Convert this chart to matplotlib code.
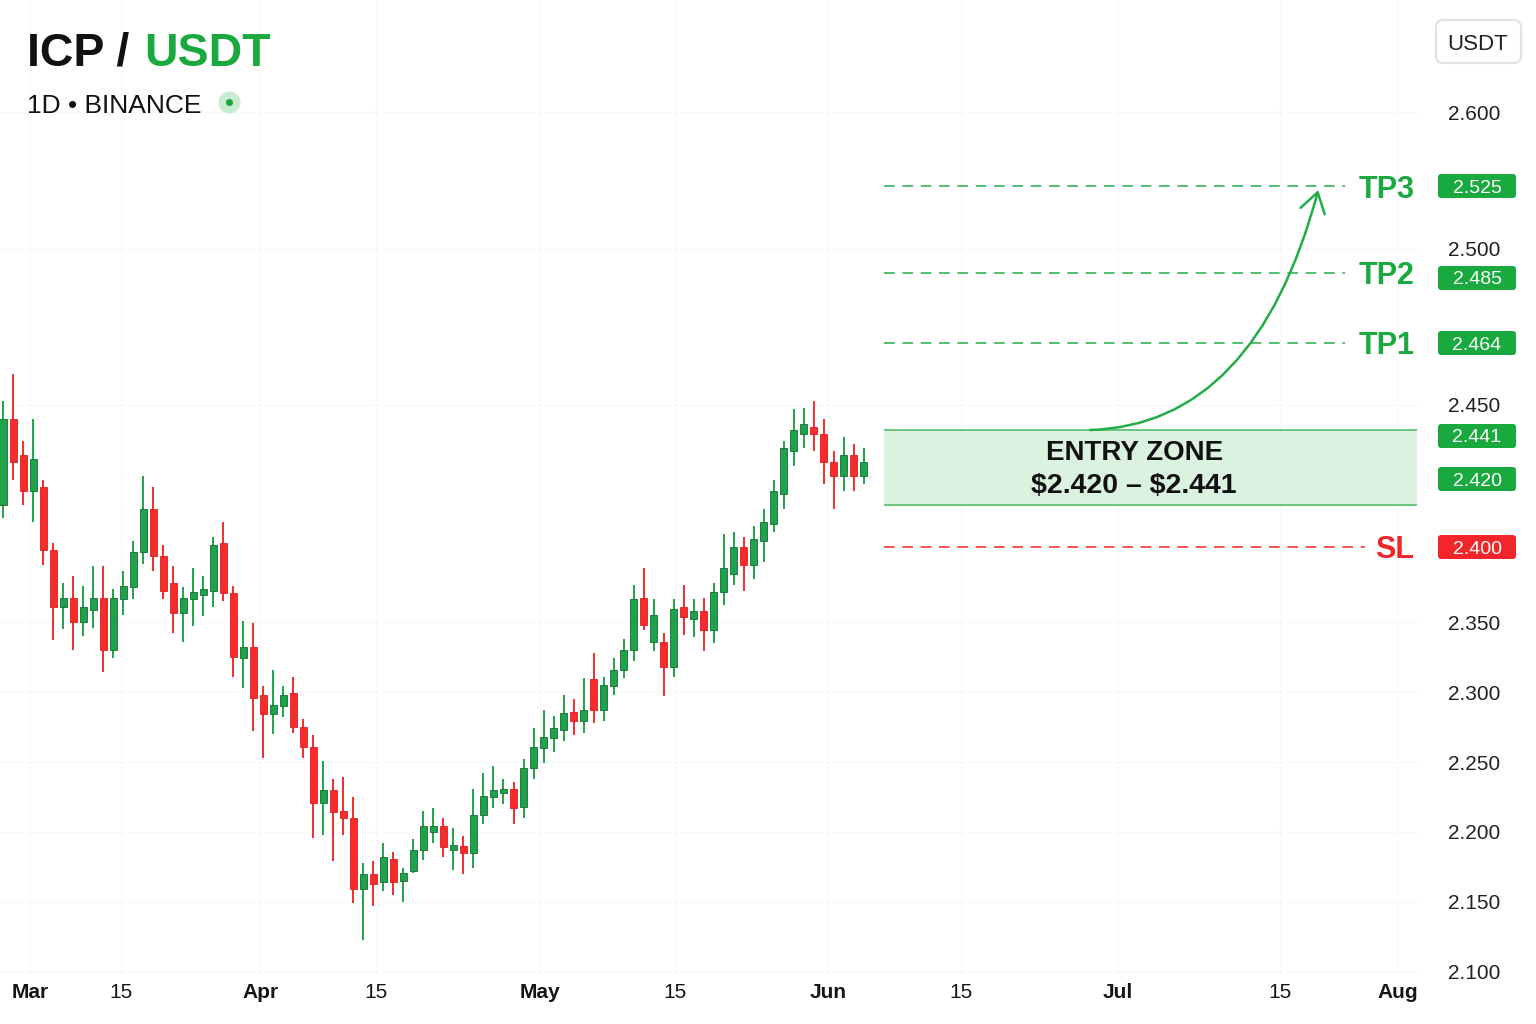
# ICP/USDT daily candles with trade plan levels (entry zone, TP1-3, SL)

import numpy as np
import matplotlib
matplotlib.use('Agg')
import matplotlib.pyplot as plt
from matplotlib.patches import FancyBboxPatch, Circle, Rectangle, FancyArrowPatch
from matplotlib.path import Path
from matplotlib.transforms import IdentityTransform

plt.rcParams['font.family'] = ['Liberation Sans', 'DejaVu Sans']

# Daily OHLC
opens = [2.420, 2.445, 2.434, 2.424, 2.425, 2.398, 2.360, 2.366, 2.350, 2.358,
         2.366, 2.330, 2.365, 2.373, 2.397, 2.418, 2.394, 2.376, 2.356, 2.365,
         2.368, 2.371, 2.402, 2.369, 2.324, 2.332, 2.298, 2.284, 2.290, 2.299,
         2.275, 2.261, 2.221, 2.230, 2.215, 2.210, 2.159, 2.170, 2.164, 2.181,
         2.165, 2.172, 2.187, 2.200, 2.204, 2.187, 2.190, 2.185, 2.212, 2.225,
         2.228, 2.231, 2.218, 2.246, 2.260, 2.267, 2.273, 2.286, 2.279, 2.309,
         2.287, 2.304, 2.316, 2.330, 2.366, 2.336, 2.336, 2.318, 2.360, 2.352,
         2.357, 2.344, 2.370, 2.382, 2.400, 2.388, 2.403, 2.411, 2.423, 2.435,
         2.440, 2.442, 2.440, 2.432, 2.428, 2.434, 2.428]
highs = [2.451, 2.457, 2.438, 2.445, 2.427, 2.402, 2.376, 2.381, 2.374, 2.387,
         2.387, 2.372, 2.384, 2.403, 2.428, 2.425, 2.401, 2.387, 2.373, 2.386,
         2.381, 2.405, 2.412, 2.374, 2.351, 2.349, 2.304, 2.316, 2.304, 2.311,
         2.281, 2.269, 2.251, 2.238, 2.239, 2.225, 2.178, 2.179, 2.192, 2.186,
         2.174, 2.195, 2.215, 2.217, 2.210, 2.203, 2.197, 2.231, 2.242, 2.247,
         2.238, 2.236, 2.252, 2.274, 2.287, 2.283, 2.298, 2.295, 2.310, 2.328,
         2.311, 2.324, 2.338, 2.375, 2.386, 2.365, 2.342, 2.365, 2.375, 2.365,
         2.366, 2.376, 2.406, 2.407, 2.405, 2.410, 2.418, 2.427, 2.438, 2.4485,
         2.449, 2.451, 2.445, 2.435, 2.439, 2.437, 2.436]
lows = [2.414, 2.427, 2.420, 2.412, 2.388, 2.337, 2.345, 2.330, 2.340, 2.346,
        2.314, 2.324, 2.355, 2.365, 2.389, 2.384, 2.365, 2.342, 2.336, 2.347,
        2.354, 2.360, 2.364, 2.311, 2.303, 2.272, 2.253, 2.270, 2.282, 2.271,
        2.253, 2.196, 2.198, 2.179, 2.198, 2.149, 2.123, 2.147, 2.158, 2.155,
        2.150, 2.171, 2.180, 2.192, 2.182, 2.173, 2.170, 2.174, 2.206, 2.217,
        2.220, 2.206, 2.210, 2.238, 2.249, 2.257, 2.265, 2.269, 2.271, 2.278,
        2.279, 2.298, 2.310, 2.322, 2.344, 2.329, 2.297, 2.311, 2.341, 2.339,
        2.329, 2.335, 2.361, 2.375, 2.371, 2.379, 2.390, 2.407, 2.418, 2.431,
        2.436, 2.435, 2.426, 2.418, 2.424, 2.424, 2.426]
closes = [2.445, 2.432, 2.424, 2.433, 2.398, 2.360, 2.366, 2.350, 2.360, 2.366,
          2.330, 2.366, 2.374, 2.397, 2.418, 2.394, 2.371, 2.356, 2.366, 2.370,
          2.372, 2.401, 2.369, 2.325, 2.332, 2.296, 2.284, 2.291, 2.298, 2.275,
          2.261, 2.221, 2.230, 2.214, 2.210, 2.159, 2.170, 2.163, 2.182, 2.164,
          2.171, 2.187, 2.204, 2.204, 2.189, 2.191, 2.185, 2.212, 2.226, 2.230,
          2.231, 2.217, 2.246, 2.261, 2.268, 2.274, 2.285, 2.279, 2.287, 2.287,
          2.305, 2.316, 2.330, 2.365, 2.348, 2.355, 2.318, 2.359, 2.353, 2.357,
          2.344, 2.370, 2.386, 2.400, 2.388, 2.404, 2.412, 2.424, 2.436, 2.441,
          2.443, 2.440, 2.432, 2.428, 2.434, 2.428, 2.432]

# Trade plan
tp_names = ['TP3', 'TP2', 'TP1']
tp_levels = [2.525, 2.485, 2.464]
sl_level = 2.400
entry_low = 2.420
entry_high = 2.441
badge_values = [2.525, 2.485, 2.464, 2.441, 2.420, 2.400]

# Axis labels
ytick_values = [2.10, 2.15, 2.20, 2.25, 2.30, 2.35, 2.45, 2.50, 2.60]
xtick_labels = ['Mar', '15', 'Apr', '15', 'May', '15', 'Jun', '15', 'Jul', '15', 'Aug']
xtick_pos = [2.7, 11.8, 25.7, 37.3, 53.6, 67.1, 82.4, 95.7, 111.4, 127.6, 139.3]

GREEN = '#19a93f'
GREEN_LINE = '#22ad48'
RED = '#f2262a'
UP_FACE = '#1ea34a'
UP_EDGE = '#166b33'
DOWN_FACE = '#f42c2c'
DOWN_EDGE = '#e01c1c'

W, H = 1536, 1024
fig = plt.figure(figsize=(W / 100, H / 100), dpi=100, facecolor='white')
ax = fig.add_axes([0, 49 / H, 1420 / W, 975 / H])
ax.set_facecolor('white')

# The price axis of the reference is not linear: piecewise scale through its labels
SCALE_VALS = np.array([2.05, 2.10, 2.15, 2.20, 2.25, 2.30, 2.35, 2.40, 2.42,
                       2.441, 2.45, 2.464, 2.485, 2.50, 2.525, 2.60, 2.70])
SCALE_PX = np.array([1042, 972, 902, 832, 762, 692, 622, 547, 505,
                     430, 405, 343, 273, 249, 186, 112, -25], dtype=float)


def fwd(v):
    return -np.interp(np.asarray(v, dtype=float), SCALE_VALS, SCALE_PX)


def inv(s):
    return np.interp(-np.asarray(s, dtype=float), SCALE_PX[::-1], SCALE_VALS[::-1])


ax.set_yscale('function', functions=(fwd, inv))
ax.set_ylim(float(inv(-975)), float(inv(0)))
ax.set_xlim(-0.3, 141.56)

# Candles
o = np.array(opens)
h = np.array(highs)
l = np.array(lows)
c = np.array(closes)
x = np.arange(len(o))
up = c >= o
face = np.where(up, UP_FACE, DOWN_FACE)
edge = np.where(up, UP_EDGE, DOWN_EDGE)
ax.vlines(x, l, h, colors=face, linewidth=1.4, zorder=2)
ax.bar(x, np.abs(c - o), bottom=np.minimum(o, c), width=0.7,
       color=face, edgecolor=edge, linewidth=0.6, zorder=3)

# Entry zone
x0, x1 = 88.0, 141.3
ax.add_patch(Rectangle((x0, entry_low), x1 - x0, entry_high - entry_low,
                       facecolor='#daf2de', edgecolor='none', zorder=1))
ax.hlines([entry_low, entry_high], x0, x1, colors='#62c274', linewidth=1.3, zorder=2)
ymid = float(inv((fwd(entry_low) + fwd(entry_high)) / 2))
ax.annotate('ENTRY ZONE', xy=(113.0, ymid), xytext=(0, 14), textcoords='offset pixels',
            ha='center', va='center', fontsize=20, fontweight='bold', color='#111111')
ax.annotate(r'\$%.3f – \$%.3f' % (entry_low, entry_high), xy=(113.0, ymid),
            xytext=(0, -18), textcoords='offset pixels',
            ha='center', va='center', fontsize=20.5, fontweight='bold', color='#111111')

# Target and stop lines
ax.hlines(tp_levels, x0, 134.1, colors=GREEN_LINE, linestyles=(0, (7, 5)),
          linewidth=1.1, zorder=2)
ax.hlines([sl_level], x0, 136.1, colors=RED, linestyles=(0, (7, 5)),
          linewidth=1.1, zorder=2)
for name, lev in zip(tp_names, tp_levels):
    ax.text(141.0, lev, name, ha='right', va='center_baseline', fontsize=22,
            fontweight='bold', color=GREEN, clip_on=False)
ax.text(141.0, sl_level, 'SL', ha='right', va='center_baseline', fontsize=22,
        fontweight='bold', color=RED, clip_on=False)

# Curved arrow from the entry zone up to TP3
arrow_path = Path([(108.6, entry_high), (125.1, 2.4428), (131.4, 2.5234)],
                  [Path.MOVETO, Path.CURVE3, Path.CURVE3])
arrow = FancyArrowPatch(path=arrow_path, arrowstyle='->,head_length=0.7,head_width=0.45',
                        mutation_scale=20, linewidth=1.8, color=GREEN_LINE,
                        transform=ax.transData, zorder=5)
ax.add_artist(arrow)

# Axes cosmetics
for s in ax.spines.values():
    s.set_visible(False)
ax.grid(True, color='#f8f8f8', linewidth=0.8)
ax.set_axisbelow(True)
ax.yaxis.tick_right()
ax.set_yticks(ytick_values, ['%.3f' % v for v in ytick_values])
ax.tick_params(axis='y', length=0, pad=38.9, labelsize=15, labelcolor='#222222')
for lbl in ax.get_yticklabels():
    lbl.set_ha('center')
ax.set_xticks(xtick_pos, xtick_labels)
ax.tick_params(axis='x', length=0, pad=6, labelsize=15, labelcolor='#151515')
for lbl, txt in zip(ax.get_xticklabels(), xtick_labels):
    if not txt.isdigit():
        lbl.set_fontweight('bold')

# Price badges on the right
badge_colors = [GREEN, GREEN, GREEN, GREEN, GREEN, RED]
badge_offsets = [0, 5, 0, 6, -26, 0]  # pixels below the level, as in the reference
for v, col, off in zip(badge_values, badge_colors, badge_offsets):
    yd = ax.transData.transform((0, v))[1] - off
    fig.add_artist(FancyBboxPatch((1438, yd - 12), 78, 24,
                                  boxstyle='round,pad=0,rounding_size=3',
                                  transform=IdentityTransform(),
                                  facecolor=col, edgecolor='none'))
    fig.text(1477 / W, yd / H, '%.3f' % v, ha='center', va='center_baseline',
             fontsize=14, color='white')

# Currency box
fig.add_artist(FancyBboxPatch((1436, H - 63), 85, 43, boxstyle='round,pad=0,rounding_size=7',
                              transform=IdentityTransform(), facecolor='white',
                              edgecolor='#e2e2e2', linewidth=1.5))
fig.text(1478 / W, 1 - 42 / H, 'USDT', ha='center', va='center_baseline', fontsize=16,
         color='#222222')

# Title block
t1 = fig.text(27 / W, 1 - 66 / H, 'ICP /', fontsize=33.5, fontweight='bold',
              color='#111111', va='baseline')
ax.annotate('USDT', xy=(1, 0), xycoords=t1, xytext=(15, 0), textcoords='offset pixels',
            ha='left', va='bottom', fontsize=33.5, fontweight='bold', color=GREEN,
            annotation_clip=False)
fig.text(27 / W, 1 - 112.7 / H, '1D • BINANCE', fontsize=19, color='#111111',
         va='baseline')
fig.add_artist(Circle((229.5, H - 102.5), 11, transform=IdentityTransform(),
                      facecolor='#c9ecd0', edgecolor='none'))
fig.add_artist(Circle((229.5, H - 102.5), 3.5, transform=IdentityTransform(),
                      facecolor=GREEN, edgecolor='none'))

fig.savefig('out.png', dpi=100, facecolor='white')
